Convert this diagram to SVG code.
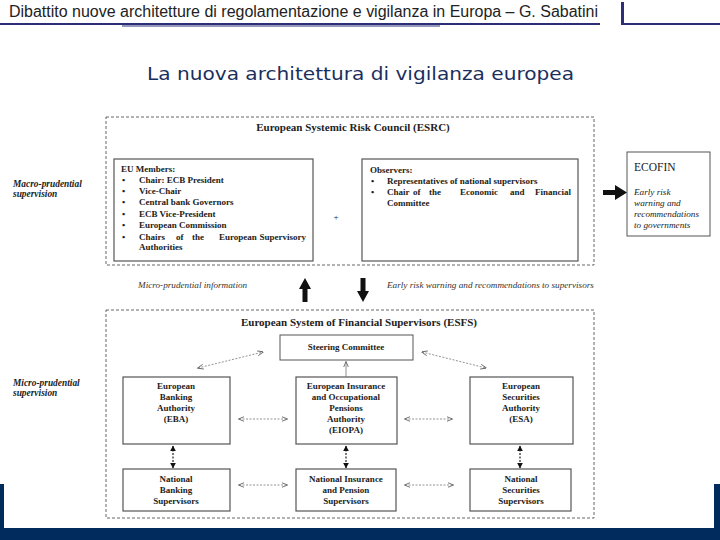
<svg xmlns="http://www.w3.org/2000/svg" width="720" height="540" viewBox="0 0 720 540">
<defs>
<style>
.hd{font-family:"Liberation Sans",Arial,sans-serif;font-size:16px;fill:#222}
.ttl{font-family:"DejaVu Sans",Verdana,sans-serif;font-size:18px;fill:#1b2f5e}
.t{font-family:"Liberation Serif","Times New Roman",serif;font-size:9px;font-weight:bold;fill:#222}
.tc{font-family:"Liberation Serif","Times New Roman",serif;font-size:9px;font-weight:bold;fill:#222;text-anchor:middle}
.h{font-family:"Liberation Serif","Times New Roman",serif;font-size:11px;font-weight:bold;fill:#222;text-anchor:middle}
.it{font-family:"Liberation Serif","Times New Roman",serif;font-size:9.2px;font-style:italic;fill:#333}
.eci{font-family:"Liberation Serif","Times New Roman",serif;font-size:9.2px;font-style:italic;fill:#222}
.side{font-family:"Liberation Serif","Times New Roman",serif;font-size:9.4px;font-style:italic;font-weight:bold;fill:#222}
.ec{font-family:"Liberation Serif","Times New Roman",serif;font-size:11.5px;fill:#222}
.dash{fill:none;stroke:#666;stroke-width:1;stroke-dasharray:3 2}
.box{fill:#fff;stroke:#555;stroke-width:1.2}
.da{fill:none;stroke:#777;stroke-width:0.8;stroke-dasharray:2 1.5}
.dv{fill:none;stroke:#222;stroke-width:1.2;stroke-dasharray:2 1.5}
.thick{fill:#111}
</style>
<marker id="ah" viewBox="0 0 10 10" refX="9" refY="5" markerWidth="6" markerHeight="6" orient="auto-start-reverse" markerUnits="userSpaceOnUse">
<path d="M0,1 L10,5 L0,9" fill="none" stroke="#666" stroke-width="1.5"/>
</marker>
<marker id="ahb" viewBox="0 0 10 10" refX="9" refY="5" markerWidth="6" markerHeight="6" orient="auto-start-reverse" markerUnits="userSpaceOnUse">
<path d="M0,0 L10,5 L0,10 z" fill="#111"/>
</marker>
</defs>
<rect width="720" height="540" fill="#fff"/>
<!-- navy frame -->
<rect x="0" y="484" width="720" height="56" fill="#002b5c"/>
<rect x="4" y="480" width="710" height="48" fill="#fff"/>

<!-- header -->
<g id="header">
<text class="hd" x="9" y="17" textLength="589" lengthAdjust="spacingAndGlyphs">Dibattito nuove architetture di regolamentazione e vigilanza in Europa – G. Sabatini</text>
<line x1="0" y1="24" x2="600" y2="24" stroke="#2c2f78" stroke-width="2"/>
<line x1="122" y1="26" x2="440" y2="26" stroke="#2c2f78" stroke-width="1"/>
<line x1="622.5" y1="2" x2="622.5" y2="25" stroke="#2c2f78" stroke-width="3"/>
<line x1="622" y1="24" x2="720" y2="24" stroke="#2c2f78" stroke-width="2"/>
</g>
<text class="ttl" x="147" y="80" textLength="427" lengthAdjust="spacingAndGlyphs">La nuova architettura di vigilanza europea</text>

<!-- side labels -->
<g id="macro">
<text class="side" x="13" y="187">Macro-prudential</text>
<text class="side" x="13" y="197">supervision</text>
</g>
<g id="micro">
<text class="side" x="13" y="386">Micro-prudential</text>
<text class="side" x="13" y="396">supervision</text>
</g>

<!-- ESRC -->
<g id="esrc">
<rect class="dash" x="106" y="117" width="488" height="148"/>
<text class="h" x="353" y="131">European Systemic Risk Council (ESRC)</text>
<text x="336" y="220" class="tc" style="font-weight:normal">+</text>
</g>
<g id="eu-members">
<rect class="box" x="114" y="159" width="199" height="102"/>
<text class="t" x="121" y="172">EU Members:</text>
<g class="t">
<text x="122" y="183">•</text><text x="139" y="183">Chair: ECB President</text>
<text x="122" y="194">•</text><text x="139" y="194">Vice-Chair</text>
<text x="122" y="205">•</text><text x="139" y="205">Central bank Governors</text>
<text x="122" y="216.5">•</text><text x="139" y="216.5">ECB Vice-President</text>
<text x="122" y="228">•</text><text x="139" y="228">European Commission</text>
<text x="122" y="239.5">•</text><text x="139" y="239.5">Chairs</text><text x="176" y="239.5">of</text><text x="192" y="239.5">the</text><text x="219" y="239.5">European</text><text x="306" y="239.5" text-anchor="end">Supervisory</text>
<text x="139" y="250">Authorities</text>
</g>
</g>
<g id="observers">
<rect class="box" x="362" y="159" width="216" height="102"/>
<text class="t" x="370" y="173">Observers:</text>
<g class="t">
<text x="371" y="184">•</text><text x="387" y="184">Representatives of national supervisors</text>
<text x="371" y="195">•</text><text x="387" y="195">Chair</text><text x="413" y="195">of</text><text x="429" y="195">the</text><text x="460" y="195">Economic</text><text x="510" y="195">and</text><text x="571" y="195" text-anchor="end">Financial</text>
<text x="387" y="206">Committee</text>
</g>
</g>
<g id="ecofin">
<rect x="627" y="152" width="83" height="84" fill="#fff" stroke="#555" stroke-width="1"/>
<text class="ec" x="634" y="171">ECOFIN</text>
<text class="eci" x="634" y="195">Early risk</text>
<text class="eci" x="634" y="206">warning and</text>
<text class="eci" x="634" y="217">recommendations</text>
<text class="eci" x="634" y="228">to governments</text>
</g>

<!-- middle labels -->
<text class="it" x="138" y="288">Micro-prudential information</text>
<text class="it" x="387" y="288">Early risk warning and recommendations to supervisors</text>

<!-- ESFS -->
<g id="esfs">
<rect class="dash" x="106" y="310" width="488" height="208"/>
<text class="h" x="359" y="326">European System of Financial Supervisors (ESFS)</text>
</g>
<g id="steering">
<rect x="280" y="335" width="133" height="25" fill="#fff" stroke="#555" stroke-width="1"/>
<text class="tc" x="346" y="350">Steering Committee</text>
</g>
<g id="eba">
<rect class="box" x="123" y="377" width="107" height="67"/>
<text class="tc" x="176" y="389">European</text>
<text class="tc" x="176" y="400">Banking</text>
<text class="tc" x="176" y="411">Authority</text>
<text class="tc" x="176" y="422">(EBA)</text>
</g>
<g id="eiopa">
<rect class="box" x="296" y="377" width="101" height="67"/>
<text class="tc" x="346" y="389">European Insurance</text>
<text class="tc" x="346" y="400">and Occupational</text>
<text class="tc" x="346" y="411">Pensions</text>
<text class="tc" x="346" y="422">Authority</text>
<text class="tc" x="346" y="433">(EIOPA)</text>
</g>
<g id="esa">
<rect class="box" x="470" y="377" width="103" height="67"/>
<text class="tc" x="521" y="389">European</text>
<text class="tc" x="521" y="400">Securities</text>
<text class="tc" x="521" y="411">Authority</text>
<text class="tc" x="521" y="422">(ESA)</text>
</g>
<g id="nbs">
<rect class="box" x="123" y="469" width="107" height="42"/>
<text class="tc" x="176" y="482">National</text>
<text class="tc" x="176" y="493">Banking</text>
<text class="tc" x="176" y="504">Supervisors</text>
</g>
<g id="nips">
<rect class="box" x="296" y="469" width="100" height="42"/>
<text class="tc" x="346" y="482">National Insurance</text>
<text class="tc" x="346" y="493">and Pension</text>
<text class="tc" x="346" y="504">Supervisors</text>
</g>
<g id="nss">
<rect class="box" x="470" y="469" width="101" height="42"/>
<text class="tc" x="521" y="482">National</text>
<text class="tc" x="521" y="493">Securities</text>
<text class="tc" x="521" y="504">Supervisors</text>
</g>

<!-- connectors -->
<g id="connectors">
<polygon class="thick" points="603,190 615,190 615,185 627,192.5 615,200 615,195 603,195"/>
<polygon class="thick" points="305,278 311,289 307.5,289 307.5,302 302.5,302 302.5,289 299,289"/>
<polygon class="thick" points="363,302 369,291 365.5,291 365.5,278 360.5,278 360.5,291 357,291"/>
<line class="da" x1="198" y1="368" x2="263" y2="352" marker-start="url(#ah)" marker-end="url(#ah)"/>
<line class="da" x1="422" y1="352" x2="486" y2="368" marker-start="url(#ah)" marker-end="url(#ah)"/>
<line x1="346" y1="362" x2="346" y2="377" stroke="#777" stroke-width="0.8" marker-start="url(#ah)"/>
<line class="da" x1="239" y1="419" x2="287" y2="419" marker-start="url(#ah)" marker-end="url(#ah)"/>
<line class="da" x1="405" y1="419" x2="452" y2="419" marker-start="url(#ah)" marker-end="url(#ah)"/>
<line class="da" x1="239" y1="485" x2="287" y2="485" marker-start="url(#ah)" marker-end="url(#ah)"/>
<line class="da" x1="405" y1="485" x2="453" y2="485" marker-start="url(#ah)" marker-end="url(#ah)"/>
<line class="dv" x1="173" y1="446" x2="173" y2="468" marker-start="url(#ahb)" marker-end="url(#ahb)"/>
<line class="dv" x1="346" y1="446" x2="346" y2="468" marker-start="url(#ahb)" marker-end="url(#ahb)"/>
<line class="dv" x1="520" y1="446" x2="520" y2="468" marker-start="url(#ahb)" marker-end="url(#ahb)"/>
</g>
</svg>
